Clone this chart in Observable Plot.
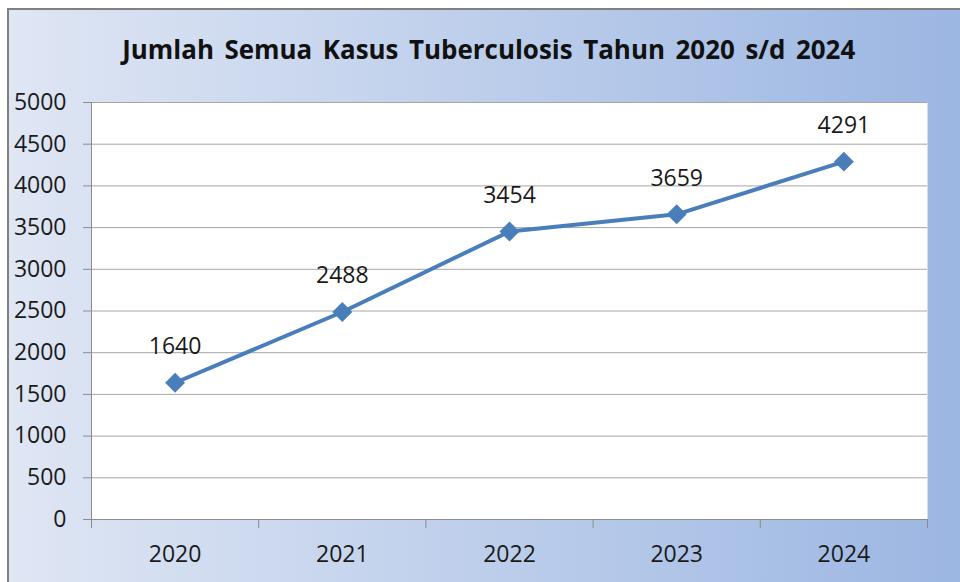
<!DOCTYPE html>
<html><head><meta charset="utf-8">
<script src="https://cdn.jsdelivr.net/npm/d3@7"></script>
<script src="https://cdn.jsdelivr.net/npm/@observablehq/plot@0.6"></script>
<style>
html,body{margin:0;padding:0;background:#fff;width:960px;height:582px;overflow:hidden;position:relative;}
#frame{position:absolute;left:7px;top:8px;width:960px;height:600px;border-left:2px solid #808080;border-top:2px solid #808080;background:linear-gradient(to right,#dfe6f4,#9bb6e2);}
#title{position:absolute;left:0;top:31px;width:977px;text-align:center;font-family:"Open Sans",sans-serif;font-weight:bold;font-size:27px;line-height:36px;color:#111;white-space:pre;word-spacing:4px;}
#title span{display:inline-block;transform-origin:center center;}
#chart{position:absolute;left:0;top:0;}
</style></head><body>
<div id="frame"></div>
<div id="title"><span id="ttext"></span></div>
<div id="chart"></div>
<script>
const titleText = "Jumlah Semua Kasus Tuberculosis Tahun 2020 s/d 2024";
const years = [2020, 2021, 2022, 2023, 2024];
const cases = [1640, 2488, 3454, 3659, 4291];
const yTicks = [0, 500, 1000, 1500, 2000, 2500, 3000, 3500, 4000, 4500, 5000];

const data = years.map((year, i) => ({year, value: cases[i]}));
const bounds = [years[0] - 0.5, ...years.map(y => y + 0.5)];

const t = document.getElementById("ttext");
t.textContent = titleText;
const w = t.getBoundingClientRect().width;
t.style.transform = `scaleX(${733 / w})`;

const axisGray = "#8c8c8c";
const textColor = "#1a1a1a";
const lineColor = "#4a7ebb";

const chart = Plot.plot({
  width: 960,
  height: 582,
  marginTop: 102,
  marginLeft: 91,
  marginRight: 33,
  marginBottom: 63,
  style: {background: "transparent", fontFamily: "'Open Sans', sans-serif", fontSize: "23px", color: textColor, overflow: "visible"},
  x: {type: "linear", domain: [bounds[0], bounds[bounds.length - 1]]},
  y: {domain: [0, 5000]},
  marks: [
    Plot.frame({fill: "white", stroke: "none"}),
    Plot.gridY(yTicks, {stroke: "#a6a6a6", strokeOpacity: 1}),
    Plot.axisY(yTicks, {tickSize: 8, tickPadding: 17, stroke: axisGray, fill: textColor, tickFormat: d => String(d), label: null}),
    Plot.ruleX([bounds[0]], {stroke: axisGray}),
    Plot.ruleY([0], {stroke: axisGray}),
    Plot.axisX(bounds, {tickSize: 9, stroke: axisGray, tickFormat: () => "", label: null}),
    Plot.axisX(years, {tickSize: 0, tickPadding: 26, fill: textColor, tickFormat: d => String(d), label: null}),
    Plot.line(data, {x: "year", y: "value", stroke: lineColor, strokeWidth: 4}),
    Plot.dot(data, {x: "year", y: "value", symbol: "diamond2", r: 9, fill: lineColor, stroke: "none"}),
    Plot.text(data, {x: "year", y: "value", text: d => String(d.value), dy: -36, fontSize: 23, fill: textColor})
  ]
});
document.getElementById("chart").append(chart);
</script>
</body></html>
